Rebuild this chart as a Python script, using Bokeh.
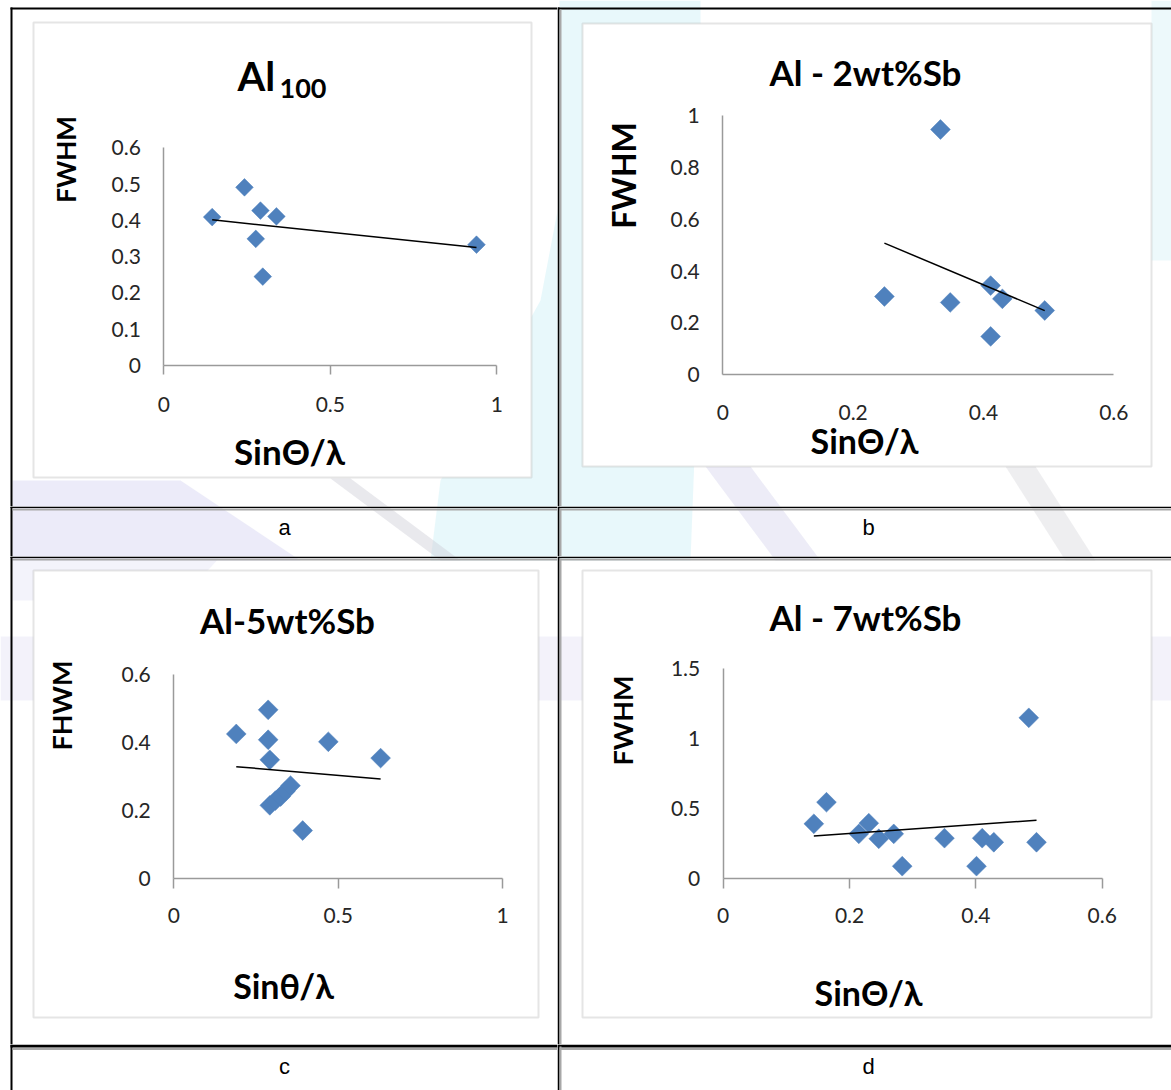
import numpy as np
from bokeh.plotting import figure
from bokeh.models import (Range1d, FixedTicker, Label, BoxAnnotation, LinearAxis,
                          PolyAnnotation)
from bokeh.layouts import column, row
from bokeh.embed import file_html
from bokeh.resources import INLINE

# ---- measured FWHM against sin(theta)/lambda for each alloy ----
al100_x = [0.145, 0.242, 0.290, 0.338, 0.276, 0.297, 0.939]
al100_y = [0.409, 0.491, 0.427, 0.411, 0.349, 0.245, 0.333]

sb2_x = [0.334, 0.248, 0.349, 0.411, 0.429, 0.494, 0.411]
sb2_y = [0.946, 0.302, 0.279, 0.344, 0.293, 0.248, 0.148]

sb5_x = [0.190, 0.287, 0.287, 0.292, 0.470, 0.629, 0.392, 0.292, 0.309, 0.325, 0.340, 0.355]
sb5_y = [0.426, 0.497, 0.409, 0.350, 0.403, 0.355, 0.142, 0.216, 0.230, 0.242, 0.258, 0.274]

sb7_x = [0.1435, 0.1635, 0.2147, 0.2305, 0.2463, 0.270, 0.2834, 0.3503, 0.401, 0.410, 0.4284, 0.4838, 0.496]
sb7_y = [0.393, 0.547, 0.321, 0.397, 0.286, 0.321, 0.090, 0.290, 0.090, 0.290, 0.261, 1.150, 0.261]

# ---- tick positions and their printed labels ----
ticks_x_unit = [0, 0.5, 1]
labels_x_unit = ["0", "0.5", "1"]
ticks_x_06 = [0, 0.2, 0.4, 0.6]
labels_x_06 = ["0", "0.2", "0.4", "0.6"]
ticks_y_a = [0, 0.1, 0.2, 0.3, 0.4, 0.5, 0.6]
labels_y_a = ["0", "0.1", "0.2", "0.3", "0.4", "0.5", "0.6"]
ticks_y_b = [0, 0.2, 0.4, 0.6, 0.8, 1]
labels_y_b = ["0", "0.2", "0.4", "0.6", "0.8", "1"]
ticks_y_c = [0, 0.2, 0.4, 0.6]
labels_y_c = ["0", "0.2", "0.4", "0.6"]
ticks_y_d = [0, 0.5, 1, 1.5]
labels_y_d = ["0", "0.5", "1", "1.5"]

captions = ["a", "b", "c", "d"]

MARKER = "#4f81bd"
AXIS = "#9a9a9a"
TICK_TXT = "#262626"
FONT = "Lato"
RULE_GREY = "#a8a8a8"

# faint page watermark shapes, in page pixels: (xs, ys, colour, alpha)
WATERMARK = [
    ([559, 700, 700, 690, 430, 440, 540, 559], [0, 0, 300, 560, 560, 480, 300, 200], "#d2f2f8", 0.5),
    ([12, 180, 300, 12], [480, 480, 560, 560], "#d9d8f4", 0.5),
    ([330, 350, 460, 440], [478, 478, 560, 560], "#cfcfd6", 0.45),
    ([705, 750, 820, 775], [466, 466, 560, 560], "#d6d5ee", 0.45),
    ([1005, 1035, 1095, 1065], [466, 466, 560, 560], "#d4d4da", 0.4),
    ([0, 1171, 1171, 0], [636, 636, 700, 700], "#dcdaf2", 0.35),
    ([1151, 1171, 1171, 1151], [0, 0, 260, 260], "#d3f1f6", 0.4),
    ([12, 220, 180, 12], [556, 556, 600, 600], "#e2e0f5", 0.4),
]


def rect(p, l, t, r, b, color):
    p.add_layout(BoxAnnotation(left=l, right=r, top=t, bottom=b,
                               left_units="canvas", right_units="canvas",
                               top_units="canvas", bottom_units="canvas",
                               fill_color=color, fill_alpha=1.0, line_color=None,
                               level="underlay"))


def watermark(p, ox, oy):
    for xs, ys, col, a in WATERMARK:
        p.add_layout(PolyAnnotation(xs=[x - ox for x in xs], ys=[y - oy for y in ys],
                                    xs_units="canvas", ys_units="canvas",
                                    fill_color=col, fill_alpha=a, line_color=None,
                                    level="underlay"))


def frame_box(p, l, t, r, b):
    p.add_layout(BoxAnnotation(left=l, right=r, top=t, bottom=b,
                               left_units="canvas", right_units="canvas",
                               top_units="canvas", bottom_units="canvas",
                               fill_color="white", fill_alpha=1.0,
                               line_color="#a9a9a9", line_width=2,
                               level="underlay"))


def text(p, x, y, s, size, bold=True, align="center", baseline="middle",
         angle=0.0, font=FONT, color="black"):
    p.add_layout(Label(x=x, y=y, x_units="canvas", y_units="canvas", text=s,
                       text_font=font, text_font_size=size,
                       text_font_style="bold" if bold else "normal",
                       text_align=align, text_baseline=baseline, angle=angle,
                       text_color=color))


def chart(w, h, ox, oy, xpix, ypix, xmax, ymax, xs, ys, xt, xl, yt, yl,
          tick_out, x_standoff, msize):
    # xpix / ypix: canvas pixels where the axes put 0 and their top value
    kx = (xpix[1] - xpix[0]) / xmax
    ky = (ypix[0] - ypix[1]) / ymax
    xr = Range1d(-xpix[0] / kx, (w - xpix[0]) / kx)
    yr = Range1d(-(h - ypix[0]) / ky, ypix[0] / ky)
    p = figure(width=w, height=h, x_range=xr, y_range=yr,
               x_axis_location=None, y_axis_location=None,
               toolbar_location=None, output_backend="svg", min_border=0,
               background_fill_color="white", border_fill_color="white",
               outline_line_color=None)
    p.grid.visible = False
    watermark(p, ox, oy)

    xa = LinearAxis(fixed_location=0, bounds=(0, xmax),
                    ticker=FixedTicker(ticks=xt, minor_ticks=[]))
    xa.major_label_overrides = dict(zip(xt, xl))
    xa.axis_line_color = AXIS
    xa.axis_line_width = 1.5
    xa.major_tick_line_color = AXIS if tick_out > 0 else None
    xa.major_tick_line_width = 1.5
    xa.major_tick_out = tick_out
    xa.major_tick_in = 0
    xa.minor_tick_line_color = None
    xa.major_label_standoff = x_standoff
    xa.major_label_text_font = FONT
    xa.major_label_text_font_size = "21px"
    xa.major_label_text_color = TICK_TXT
    p.add_layout(xa, "below")

    ya = LinearAxis(fixed_location=0, bounds=(0, ymax),
                    ticker=FixedTicker(ticks=yt, minor_ticks=[]))
    ya.major_label_overrides = dict(zip(yt, yl))
    ya.axis_line_color = AXIS
    ya.axis_line_width = 1.5
    ya.major_tick_line_color = None
    ya.major_tick_out = 0
    ya.major_tick_in = 0
    ya.minor_tick_line_color = None
    ya.major_label_standoff = 23
    ya.major_label_text_font = FONT
    ya.major_label_text_font_size = "21px"
    ya.major_label_text_color = TICK_TXT
    p.add_layout(ya, "left")

    p.scatter(xs, ys, marker="square", angle=np.pi / 4, size=msize,
              fill_color=MARKER, line_color=MARKER, line_width=0.5)

    # least-squares linear trend over the measured span
    k, c0 = np.polyfit(xs, ys, 1)
    tx = np.array([min(xs), max(xs)])
    p.line(tx, k * tx + c0, line_color="black", line_width=1.5)
    return p


def caption_fig(w, h, ox, oy, letter, cx, cy, left_edge, top_thick):
    p = figure(width=w, height=h, x_range=Range1d(0, 1), y_range=Range1d(0, 1),
               x_axis_type=None, y_axis_type=None, toolbar_location=None,
               output_backend="svg", min_border=0, outline_line_color=None,
               background_fill_color="white", border_fill_color="white")
    p.grid.visible = False
    watermark(p, ox, oy)
    if left_edge:
        rect(p, 10, 0, 12, h, "black")
        rect(p, 10, 0, w, top_thick, "black")
        rect(p, 12, top_thick + 0.5, w, top_thick + 2.5, RULE_GREY)
    else:
        rect(p, 0, 0, w, top_thick, "black")
        rect(p, 2, top_thick + 0.5, w, top_thick + 2.5, RULE_GREY)
        rect(p, 0, 0, 2, h, "black")
        rect(p, 2, 2, 4, h, RULE_GREY)
    text(p, cx, cy, letter, "22px", bold=False, font="Liberation Sans")
    return p


# ---- panel a : Al100 ----
fa = chart(557, 506, 0, 0, (163.4, 496.3), (365.0, 147.3), 1, 0.6, al100_x, al100_y,
           ticks_x_unit, labels_x_unit, ticks_y_a, labels_y_a, 9, 22, 12.5)
rect(fa, 10, 7, 557, 9, "black")
rect(fa, 10, 7, 12, 506, "black")
frame_box(fa, 33, 22, 531, 477)
text(fa, 237, 75, "Al", "40px", align="left")
text(fa, 279, 88, "100", "27px", align="left")
text(fa, 65, 159, "FWHM", "26px", angle=np.pi / 2)
text(fa, 289, 450, "Sin\u0398/\u03bb", "35px")

# ---- panel b : Al - 2wt%Sb ----
fb = chart(614, 506, 557, 0, (165.3, 556.3), (374.3, 115.0), 0.6, 1, sb2_x, sb2_y,
           ticks_x_06, labels_x_06, ticks_y_b, labels_y_b, 0, 30, 14)
rect(fb, 0, 7, 614, 9, "black")
rect(fb, 0, 7, 2, 506, "black")
rect(fb, 2, 9, 4, 506, RULE_GREY)
frame_box(fb, 25, 23, 594, 466)
text(fb, 308, 71, "Al - 2wt%Sb", "35px")
text(fb, 66, 175, "FWHM", "32px", angle=np.pi / 2)
text(fb, 307, 440, "Sin\u0398/\u03bb", "34px")

# ---- panel c : Al-5wt%Sb ----
fc = chart(557, 488, 0, 556, (173.3, 502.1), (322.3, 118.3), 1, 0.6, sb5_x, sb5_y,
           ticks_x_unit, labels_x_unit, ticks_y_c, labels_y_c, 10, 19, 14)
rect(fc, 10, 0, 557, 1.5, "black")
rect(fc, 12, 2, 557, 4, RULE_GREY)
rect(fc, 10, 0, 12, 488, "black")
frame_box(fc, 33, 14, 538, 461)
text(fc, 287, 63, "Al-5wt%Sb", "35px")
text(fc, 61, 149, "FHWM", "27px", angle=np.pi / 2)
text(fc, 283, 429, "Sin\u03b8/\u03bb", "34px")

# ---- panel d : Al - 7wt%Sb ----
fd = chart(614, 488, 557, 556, (165.7, 544.7), (322.3, 112.3), 0.6, 1.5, sb7_x, sb7_y,
           ticks_x_06, labels_x_06, ticks_y_d, labels_y_d, 10, 19, 14)
rect(fd, 0, 0, 614, 1.5, "black")
rect(fd, 2, 2, 614, 4, RULE_GREY)
rect(fd, 0, 0, 2, 488, "black")
rect(fd, 2, 2, 4, 488, RULE_GREY)
frame_box(fd, 25, 14, 594, 461)
text(fd, 308, 60, "Al - 7wt%Sb", "35px")
text(fd, 65, 164, "FWHM", "27px", angle=np.pi / 2)
text(fd, 311, 436, "Sin\u0398/\u03bb", "34px")

# ---- caption rows ----
ca = caption_fig(557, 50, 0, 506, captions[0], 284, 21, True, 1.5)
cb = caption_fig(614, 50, 557, 506, captions[1], 311, 21, False, 1.5)
cc = caption_fig(557, 46, 0, 1044, captions[2], 284, 22, True, 3)
cd = caption_fig(614, 46, 557, 1044, captions[3], 311, 22, False, 3)

root = column(row(fa, fb), row(ca, cb), row(fc, fd), row(cc, cd))

open("out.html", "w").write(file_html(root, INLINE))
